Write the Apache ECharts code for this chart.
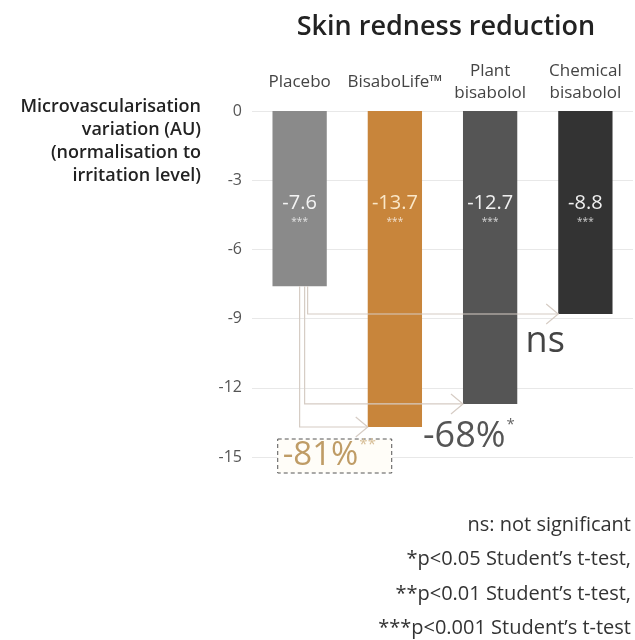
<!DOCTYPE html>
<html>
<head>
<meta charset="utf-8">
<script src="https://cdn.jsdelivr.net/npm/echarts@6/dist/echarts.min.js"></script>
<style>
  html, body { margin: 0; padding: 0; background: #fff; }
</style>
</head>
<body>
<div id="main" style="width: 635px;height:640px;"></div>

<script type="text/javascript">
    // data
    var categories = ['Placebo', 'BisaboLife™', 'Plant\nbisabolol', 'Chemical\nbisabolol'];
    var redness = [-7.6, -13.7, -12.7, -8.8];
    var barStars = ['***', '***', '***', '***'];
    var yTicks = [0, -3, -6, -9, -12, -15];

    // comparisons against placebo: target bar, reduction text, significance
    var compareTarget = [3, 2, 1];
    var compareText = ['ns', '-68%', '-81%'];
    var compareStars = ['', '*', '**'];

    var footnotes = [
        'ns: not significant',
        '*p<0.05 Student’s t-test,',
        '**p<0.01 Student’s t-test,',
        '***p<0.001 Student’s t-test'
    ];

    // styles
    var FONT = "'Open Sans', 'Noto Sans', sans-serif";
    var barColors = ['#8a8a8a', '#c8853b', '#555555', '#333333'];
    var labelColors = ['#f4f4f4', '#fae7c8', '#f0f0f0', '#f0f0f0'];
    var lineColor = '#d6ccc4';
    // per comparison: x offset of the vertical line under the placebo bar, label offset from arrow tip
    var compareStyle = [
        { dx: 8, lx: -13, ly: 28, align: 'center', size: 36, color: '#444', starColor: '#444' },
        { dx: 5, lx: -40, ly: 33, align: 'left', size: 36, color: '#555', starColor: '#666' },
        { dx: 0, lx: -85, ly: 29, align: 'left', size: 33, color: '#bf9c66', starColor: '#d8bf98', box: true }
    ];

    var myChart = echarts.init(document.getElementById('main'));

    var option = {
        animation: false,
        textStyle: { fontFamily: FONT },
        title: {
            text: 'Skin redness reduction',
            left: 441,
            top: 9,
            textAlign: 'center',
            textStyle: { fontFamily: FONT, fontSize: 27, fontWeight: 600, color: '#222' }
        },
        grid: { left: 252, right: 2, top: 111, bottom: 183 },
        xAxis: {
            type: 'category',
            position: 'top',
            data: categories,
            axisLine: { show: false },
            axisTick: { show: false },
            axisLabel: {
                margin: 29,
                verticalAlign: 'middle',
                lineHeight: 22,
                fontSize: 17,
                color: '#444',
                fontFamily: FONT,
                interval: 0
            }
        },
        yAxis: {
            type: 'value',
            min: -15,
            max: 0,
            interval: 3,
            axisLine: { show: false },
            axisTick: { show: false },
            axisLabel: { margin: 10, fontSize: 16, color: '#555', fontFamily: FONT },
            splitLine: { lineStyle: { color: '#e8e8e8', width: 1 } }
        },
        graphic: [
            {
                type: 'text',
                x: 201,
                y: 95,
                style: {
                    text: 'Microvascularisation\nvariation (AU)\n(normalisation to\nirritation level)',
                    align: 'right',
                    textAlign: 'right',
                    font: '600 18px ' + FONT,
                    lineHeight: 23,
                    fill: '#222'
                }
            },
            {
                type: 'text',
                x: 631,
                y: 508,
                style: {
                    text: footnotes.join('\n'),
                    align: 'right',
                    textAlign: 'right',
                    font: '20px ' + FONT,
                    lineHeight: 34.5,
                    fill: '#333'
                }
            }
        ],
        series: [
            {
                name: 'Skin redness',
                type: 'bar',
                barWidth: '57%',
                data: redness.map(function (v, i) {
                    return {
                        value: v,
                        itemStyle: { color: barColors[i] },
                        label: { rich: { v: { color: labelColors[i] } } }
                    };
                }),
                label: {
                    show: true,
                    position: ['50%', 80],
                    align: 'center',
                    verticalAlign: 'top',
                    formatter: function (p) {
                        return '{v|' + p.value + '}\n{s|' + barStars[p.dataIndex] + '}';
                    },
                    rich: {
                        v: { fontSize: 20, fontFamily: FONT, lineHeight: 24, align: 'center' },
                        s: { fontSize: 10, color: 'rgba(255,255,255,0.75)', lineHeight: 14, align: 'center' }
                    }
                }
            },
            {
                name: 'comparisons',
                type: 'custom',
                coordinateSystem: 'cartesian2d',
                z: 5,
                data: compareTarget.map(function (t, i) { return [t, redness[t], i]; }),
                renderItem: function (params, api) {
                    var i = api.value(2);
                    var st = compareStyle[i];
                    var start = api.coord([0, redness[0]]);
                    var end = api.coord([api.value(0), api.value(1)]);
                    var barW = api.size([1, 0])[0] * 0.57;
                    var x0 = start[0] + st.dx;
                    var tipX = end[0] - barW / 2;
                    var tipY = end[1];
                    var children = [
                        {
                            type: 'polyline',
                            shape: { points: [[x0, start[1]], [x0, tipY], [tipX, tipY]] },
                            style: { stroke: lineColor, lineWidth: 1.2, fill: null }
                        },
                        {
                            type: 'polyline',
                            shape: { points: [[tipX - 12, tipY - 10], [tipX, tipY], [tipX - 12, tipY + 10]] },
                            style: { stroke: lineColor, lineWidth: 1.2, fill: null }
                        }
                    ];
                    var tx = tipX + st.lx;
                    var ty = tipY + st.ly;
                    if (st.box) {
                        children.push({
                            type: 'rect',
                            shape: { x: tx - 5, y: ty - 17, width: 114, height: 34 },
                            style: { fill: '#fffdf8', stroke: '#555', lineWidth: 1, lineDash: [4, 3] }
                        });
                    }
                    var t = compareText[i];
                    var s = compareStars[i];
                    children.push({
                        type: 'text',
                        x: tx,
                        y: ty,
                        style: {
                            text: '{p|' + t + '}' + (s ? '{s|' + s + '}' : ''),
                            align: st.align,
                            verticalAlign: 'middle',
                            rich: {
                                p: { fontSize: st.size, fontFamily: FONT, fill: st.color, lineHeight: st.size + 4 },
                                s: { fontSize: 15, fontFamily: FONT, fill: st.starColor, verticalAlign: 'top', lineHeight: st.size + 4, padding: [0, 0, 14, 1] }
                            }
                        }
                    });
                    return { type: 'group', children: children };
                }
            }
        ]
    };

    myChart.setOption(option);
</script>
</body>
</html>
